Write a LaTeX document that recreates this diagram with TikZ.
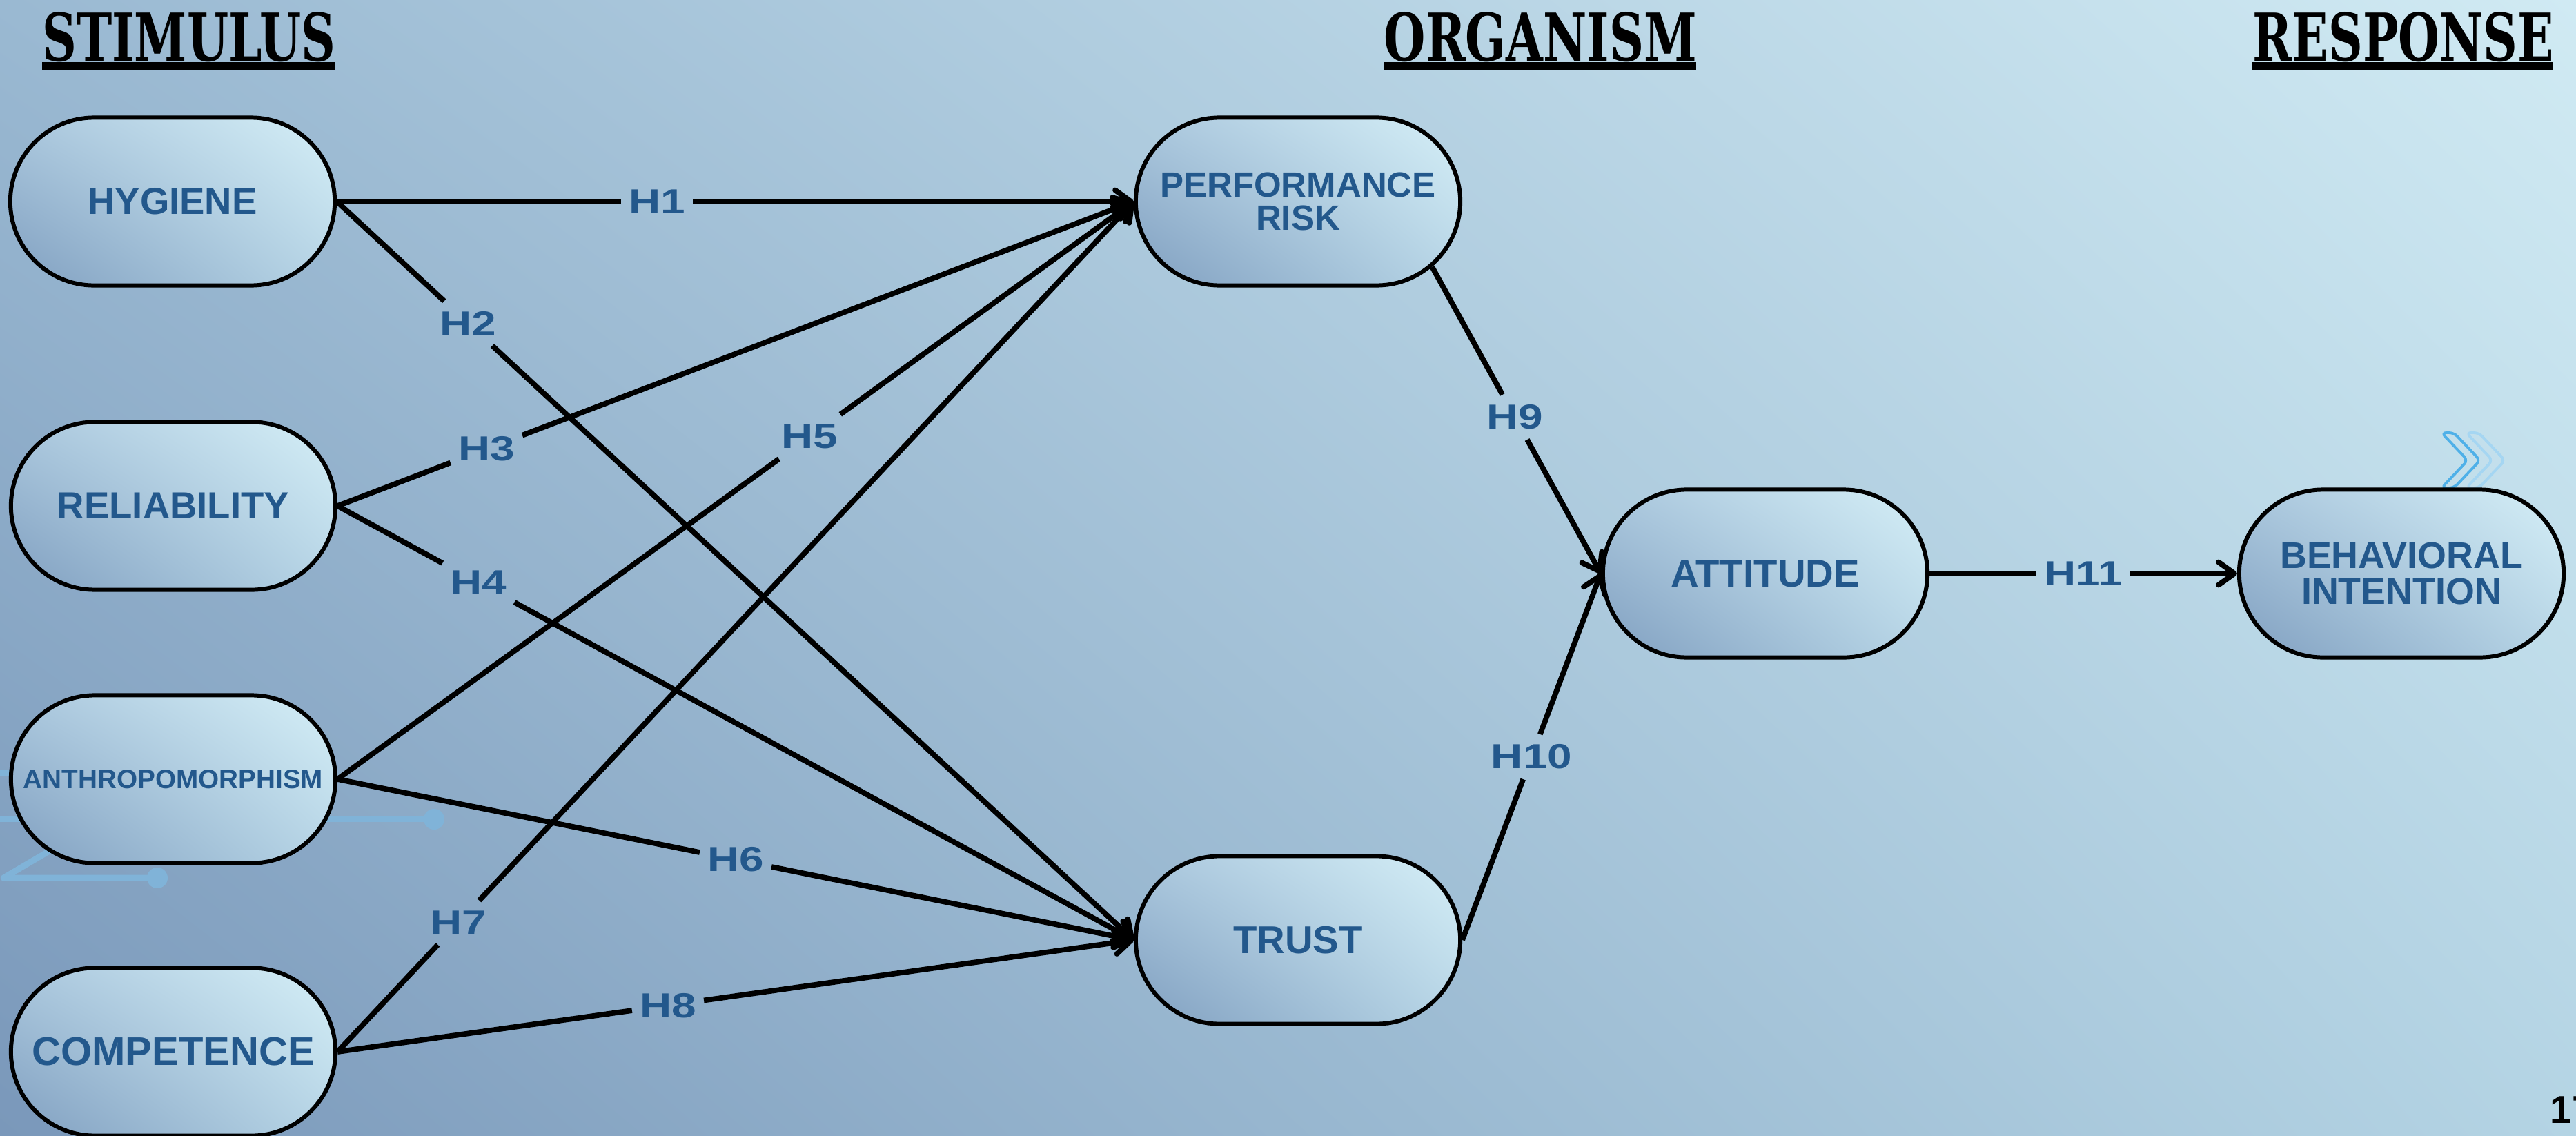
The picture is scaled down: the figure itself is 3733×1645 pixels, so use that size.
\documentclass[tikz,border=0pt]{standalone}
\usepackage{fontspec}
\usepackage{graphicx}
\setmainfont{Liberation Sans}
\newfontfamily\headfont{DejaVu Serif}
\usetikzlibrary{arrows.meta,shapes.misc,shadings,calc}

\definecolor{txtblue}{HTML}{23588C}
\definecolor{bgUL}{HTML}{9AB9D2}
\definecolor{bgUR}{HTML}{D0EAF3}
\definecolor{bgLL}{HTML}{7A98BA}
\definecolor{bgLR}{HTML}{B4D4E4}
\definecolor{ndUL}{HTML}{AAC7DD}
\definecolor{ndUR}{HTML}{D5EFF7}
\definecolor{ndLL}{HTML}{809FC0}
\definecolor{ndLR}{HTML}{B7D5E6}
\definecolor{circ}{HTML}{80B3D8}
\definecolor{chevA}{HTML}{4FB0E8}
\definecolor{chevB}{HTML}{A5D6F2}

\newcommand{\widelab}[1]{\scalebox{1.27}[1]{#1}}

\begin{document}
\begin{tikzpicture}[x=0.01cm,y=-0.01cm,
  box/.style={rounded rectangle, draw=black, line width=1.7pt,
    minimum width=4.7cm, minimum height=2.43cm, inner sep=0pt, align=center,
    text=txtblue, font=\bfseries\fontsize{15.5}{15}\selectfont,
    upper left=ndUL, upper right=ndUR, lower left=ndLL, lower right=ndLR},
  hlab/.style={text=txtblue, font=\bfseries\fontsize{14.3}{14}\selectfont,
    inner xsep=3pt, inner ysep=4pt},
  conn/.style={line width=2.2pt, black},
  arr/.style={conn, -{Straight Barb[length=2.3mm,width=3.3mm,round]}},
  head/.style={anchor=base west, inner sep=0pt, font=\headfont\bfseries},
  circuit/.style={circ, line width=2.5pt},
  chev/.style={line width=1.1pt, rounded corners=2pt},
]
\useasboundingbox (0,0) rectangle (3733,1645);
\clip (0,0) rectangle (3733,1645);

% background
\shade[upper left=bgUL, upper right=bgUR, lower left=bgLL, lower right=bgLR]
  (0,0) rectangle (3733,1645);

% circuit decoration
\draw[circuit] (0,1120) -- (100,1120);
\draw[circuit] (0,1187) -- (629,1187);
\fill[circ] (629,1187) circle[radius=0.15cm];
\draw[circuit, line join=round] (150,1187) -- (5,1272) -- (228,1272);
\fill[circ] (228,1272) circle[radius=0.15cm];

% chevrons
\draw[chev, draw=chevA] (3538,627) -- (3556,627) -- (3594,667) -- (3556,707) -- (3538,707) -- (3576,667) -- cycle;
\draw[chev, draw=chevB] (3574,627) -- (3592,627) -- (3630,667) -- (3592,707) -- (3574,707) -- (3612,667) -- cycle;

% headers
\node[head] (stim) at (61,88) {\resizebox{4.24cm}{0.71cm}{STIMULUS}};
\node[head] (org) at (2005,88) {\resizebox{4.53cm}{0.71cm}{ORGANISM}};
\node[head] (resp) at (3264,88) {\resizebox{4.36cm}{0.71cm}{RESPONSE}};
\fill (61,90) rectangle (485,101);
\fill (2005,90) rectangle (2458,101);
\fill (3264,90) rectangle (3700,101);

% nodes
\node[box] (hyg) at (250,292) {HYGIENE};
\node[box] (rel) at (251,733) {RELIABILITY};
\node[box, font=\bfseries\fontsize{11}{11}\selectfont] (ant) at (251,1129) {ANTHROPOMORPHISM};
\node[box, font=\bfseries\fontsize{16.5}{16}\selectfont] (comp) at (251,1524) {COMPETENCE};
\node[box, font=\bfseries\fontsize{14.5}{13.6}\selectfont] (perf) at (1881,292) {PERFORMANCE\\RISK};
\node[box, font=\bfseries\fontsize{16}{16}\selectfont] (trust) at (1881,1362) {TRUST};
\node[box, font=\bfseries\fontsize{16}{16}\selectfont] (att) at (2558,831) {ATTITUDE};
\node[box, font=\bfseries\fontsize{15.3}{15}\selectfont] (bi) at (3480,831) {BEHAVIORAL\\INTENTION};

% label positions
\path (hyg.east) -- node[hlab,pos=0.402] (h1) {\widelab{H1}} (perf.west);
\path (hyg.east) -- node[hlab,pos=0.165] (h2) {\widelab{H2}} (trust.west);
\path (rel.east) -- node[hlab,pos=0.187] (h3) {\widelab{H3}} (perf.west);
\path (rel.east) -- node[hlab,pos=0.177] (h4) {\widelab{H4}} (trust.west);
\path (ant.east) -- node[hlab,pos=0.593] (h5) {\widelab{H5}} (perf.west);
\path (ant.east) -- node[hlab,pos=0.5] (h6) {\widelab{H6}} (trust.west);
\path (comp.east) -- node[hlab,pos=0.152] (h7) {\widelab{H7}} (perf.west);
\path (comp.east) -- node[hlab,pos=0.415] (h8) {\widelab{H8}} (trust.west);
\path (perf.-26) -- node[hlab,pos=0.49] (h9) {\widelab{H9}} (att.west);
\path (trust.east) -- node[hlab,pos=0.5] (h10) {\widelab{H10}} (att.west);
\path (att.east) -- node[hlab,pos=0.5] (h11) {\widelab{H11}} (bi.west);

% connectors
\draw[conn] (hyg.east) -- (h1);  \draw[arr] (h1) -- (perf.west);
\draw[conn] (hyg.east) -- (h2);  \draw[arr] (h2) -- (trust.west);
\draw[conn] (rel.east) -- (h3);  \draw[arr] (h3) -- (perf.west);
\draw[conn] (rel.east) -- (h4);  \draw[arr] (h4) -- (trust.west);
\draw[conn] (ant.east) -- (h5);  \draw[arr] (h5) -- (perf.west);
\draw[conn] (ant.east) -- (h6);  \draw[arr] (h6) -- (trust.west);
\draw[conn] (comp.east) -- (h7); \draw[arr] (h7) -- (perf.west);
\draw[conn] (comp.east) -- (h8); \draw[arr] (h8) -- (trust.west);
\draw[conn] (perf.-26) -- (h9);  \draw[arr] (h9) -- (att.west);
\draw[conn] (trust.east) -- (h10); \draw[arr] (h10) -- (att.west);
\draw[conn] (att.east) -- (h11); \draw[arr] (h11) -- (bi.west);

% page number
\node[anchor=base west, inner sep=0pt, font=\bfseries\fontsize{16}{16}\selectfont] (pg) at (3695,1627) {17};
\end{tikzpicture}
\end{document}
